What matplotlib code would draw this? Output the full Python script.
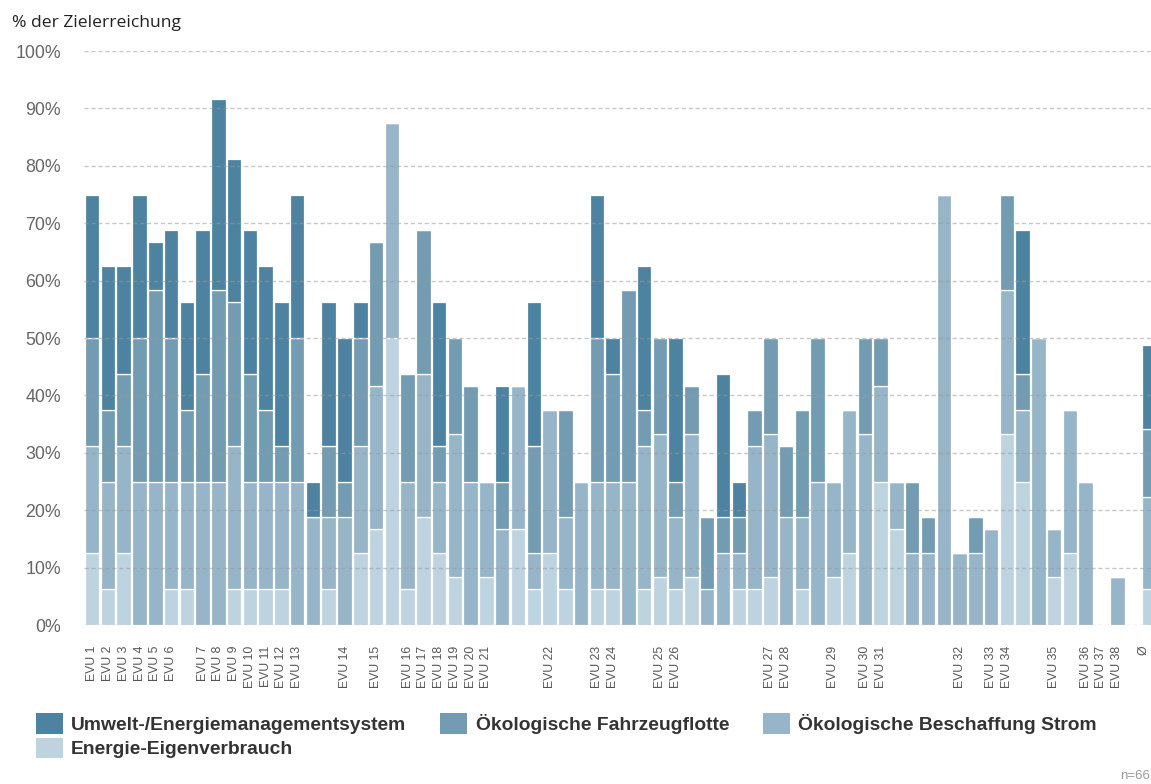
import matplotlib
matplotlib.use("Agg")
import matplotlib.pyplot as plt
from matplotlib.patches import Patch
from matplotlib.transforms import ScaledTranslation
import numpy as np

# ---- data (percent of target achievement, per bar) ----
eigenverbrauch = [12.5, 6.25, 12.5, 0, 0, 6.25, 6.25, 0, 0, 6.25, 6.25, 6.25, 6.25, 0, 0, 6.25, 0, 12.5,
                  16.67, 50, 6.25, 18.75, 12.5, 8.33, 0, 8.33, 0, 16.67, 6.25, 12.5, 6.25, 0, 6.25, 6.25,
                  0, 6.25, 8.33, 6.25, 8.33, 0, 0, 6.25, 6.25, 8.33, 0, 6.25, 0, 8.33, 12.5, 0, 25, 16.67,
                  0, 0, 0, 0, 0, 0, 33.33, 25, 0, 8.33, 12.5, 0, 0, 0, 0, 6.2]
strom = [18.75, 18.75, 18.75, 25, 25, 18.75, 18.75, 25, 25, 25, 18.75, 18.75, 18.75, 25, 18.75, 12.5, 18.75,
         18.75, 25, 37.5, 18.75, 25, 12.5, 25, 25, 16.67, 16.67, 25, 6.25, 25, 12.5, 25, 18.75, 18.75, 25,
         25, 25, 12.5, 25, 6.25, 12.5, 6.25, 25, 25, 18.75, 12.5, 25, 16.67, 25, 33.33, 16.67, 8.33, 12.5,
         12.5, 75, 12.5, 12.5, 16.67, 25, 12.5, 50, 8.33, 25, 25, 0, 8.33, 0, 16.1]
flotte = [18.75, 12.5, 12.5, 25, 33.33, 25, 12.5, 18.75, 33.33, 25, 18.75, 12.5, 6.25, 25, 0, 12.5, 6.25,
          18.75, 25, 0, 18.75, 25, 6.25, 16.67, 16.67, 0, 8.33, 0, 18.75, 0, 18.75, 0, 25, 18.75, 33.33,
          6.25, 16.67, 6.25, 8.33, 12.5, 6.25, 6.25, 6.25, 16.67, 12.5, 18.75, 25, 0, 0, 16.67, 8.33, 0,
          12.5, 6.25, 0, 0, 6.25, 0, 16.67, 6.25, 0, 0, 0, 0, 0, 0, 0, 11.8]
ums = [25, 25, 18.75, 25, 8.33, 18.75, 18.75, 25, 33.33, 25, 25, 25, 25, 25, 6.25, 25, 25, 6.25, 0, 0, 0,
       0, 25, 0, 0, 0, 16.67, 0, 25, 0, 0, 0, 25, 6.25, 0, 25, 0, 25, 0, 0, 25, 6.25, 0, 0, 0, 0, 0, 0, 0,
       0, 0, 0, 0, 0, 0, 0, 0, 0, 0, 25, 0, 0, 0, 0, 0, 0, 0, 14.6]

tick_index = [0, 1, 2, 3, 4, 5, 7, 8, 9, 10, 11, 12, 13, 16, 18, 20, 21, 22, 23, 24, 25, 29, 32, 33,
              36, 37, 43, 44, 47, 49, 50, 55, 57, 58, 61, 63, 64, 65, 67]
tick_labels = [f"EVU {i}" for i in range(1, 39)] + ["Ø"]

series_names = ["Energie-Eigenverbrauch", "Ökologische Beschaffung Strom",
                "Ökologische Fahrzeugflotte", "Umwelt-/Energiemanagementsystem"]
colors = ["#bdd3e0", "#97b5c8", "#739cb2", "#4d83a0"]

W, H = 1151, 784
fig = plt.figure(figsize=(W / 100, H / 100), dpi=100)
ax = fig.add_axes([84 / W, (H - 625) / H, (W - 84) / W, (625 - 51) / H])

x = np.arange(len(strom))
bottom = np.zeros(len(x))
for vals, col in zip([eigenverbrauch, strom, flotte, ums], colors):
    v = np.array(vals, dtype=float)
    ax.bar(x, v, bottom=bottom, width=0.92, color=col, edgecolor="white", linewidth=0.9, zorder=2)
    bottom += v

ax.set_xlim(-0.52, 67.14)
ax.set_ylim(0, 100)
ax.set_yticks(np.arange(0, 101, 10))
ax.set_yticklabels([f"{v}%" for v in range(0, 101, 10)], fontsize=12.8, color="#666666",
                   family="Liberation Sans")
ax.tick_params(axis="y", length=0, pad=16.5)
ax.set_xticks(tick_index)
ax.set_xticklabels(tick_labels, rotation=90, fontsize=8.8, color="#555555", family="Liberation Sans")
ax.tick_params(axis="x", length=0, pad=15)
# nudge the average label a little left so it stays inside the figure
last = ax.get_xticklabels()[-1]
last.set_transform(last.get_transform() + ScaledTranslation(-5 / 100, 0, fig.dpi_scale_trans))

for s in ax.spines.values():
    s.set_visible(False)
ax.yaxis.grid(True, linestyle=(0, (3, 2)), color="#999999", alpha=0.55, linewidth=1.0, zorder=3)
ax.set_axisbelow(False)
for gl in ax.get_ygridlines():
    gl.set_zorder(3)

fig.text(12 / W, 1 - 23 / H, "% der Zielerreichung", fontsize=12.6, color="#222222",
         family="Open Sans", va="center", ha="left")

handles = [Patch(facecolor=colors[3], label=series_names[3]),
           Patch(facecolor=colors[0], label=series_names[0]),
           Patch(facecolor=colors[2], label=series_names[2]),
           Patch(facecolor=colors[1], label=series_names[1])]
leg = fig.legend(handles=handles, ncol=3, loc="upper left", bbox_to_anchor=(36 / W, 1 - 713 / H),
                 frameon=False, borderpad=0, borderaxespad=0, handlelength=1.39, handleheight=1.26,
                 handletextpad=0.43, columnspacing=1.76, labelspacing=0.2,
                 prop={"family": "Liberation Sans", "weight": "bold", "size": 13.9})
for t in leg.get_texts():
    t.set_color("#333333")

fig.text(1120 / W, 1 - 776 / H, "n=66", fontsize=9.5, color="#999999", family="Liberation Sans",
         va="center", ha="left")

fig.savefig("out.png", dpi=100)
